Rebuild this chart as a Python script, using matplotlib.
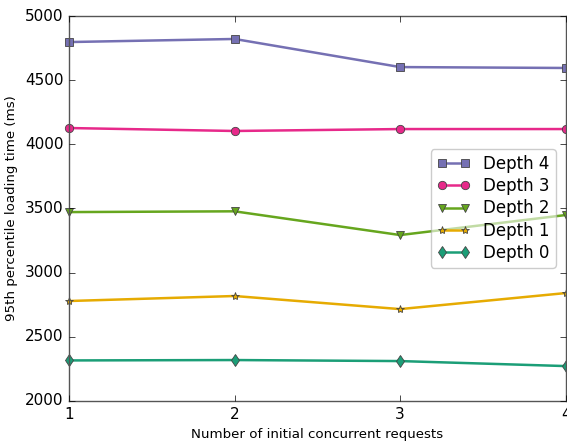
import matplotlib
matplotlib.use('Agg')
import matplotlib.pyplot as plt

plt.style.use('classic')

requests = [1, 2, 3, 4]
labels = ['Depth 4', 'Depth 3', 'Depth 2', 'Depth 1', 'Depth 0']
depth4 = [4797, 4821, 4602, 4595]
depth3 = [4127, 4104, 4119, 4119]
depth2 = [3472, 3478, 3293, 3449]
depth1 = [2779, 2818, 2716, 2841]
depth0 = [2316, 2319, 2311, 2272]

series = [depth4, depth3, depth2, depth1, depth0]
colors = ['#7570b3', '#e7298a', '#66a61e', '#e6ab02', '#1b9e77']
markers = ['s', 'o', 'v', '*', 'd']

fig = plt.figure(figsize=(5.67, 4.42), dpi=100)
fig.patch.set_facecolor('white')
ax = fig.add_axes([0.1217, 0.0928, 0.876, 0.871])

for vals, lab, c, m in zip(series, labels, colors, markers):
    ax.plot(requests, vals, color=c, marker=m, label=lab, linewidth=1.8,
            markersize=6, markeredgecolor='#444444', markeredgewidth=0.6,
            clip_on=False)

ax.set_xlim(1, 4)
ax.set_ylim(2000, 5000)
ax.set_xticks([1, 2, 3, 4])
ax.set_yticks(range(2000, 5001, 500))
ax.tick_params(labelsize=11)
ax.set_xlabel('Number of initial concurrent requests', fontsize=9.6)
ax.set_ylabel('95th percentile loading time (ms)', fontsize=9.6)
for s in ax.spines.values():
    s.set_color('#555555')

leg = ax.legend(loc='center right', fancybox=True, framealpha=0.6,
                fontsize=12, numpoints=2, borderpad=0.35, labelspacing=0.25,
                handlelength=2.0, borderaxespad=0.6)
leg.get_frame().set_edgecolor('#aaaaaa')

fig.savefig('out.png', dpi=100)
